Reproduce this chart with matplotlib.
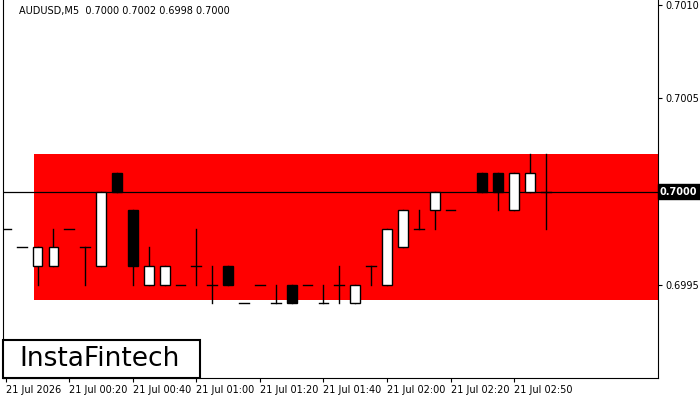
import matplotlib
matplotlib.use("Agg")
import matplotlib.pyplot as plt
from matplotlib.patches import Rectangle

# candle data (index, open, high, low, close); index 29 missing
idx = [0,1,2,3,4,5,6,7,8,9,10,11,12,13,14,15,16,17,18,19,20,21,22,23,24,25,26,27,28,30,31,32,33,34]
opens = [.6998,.6997,.6996,.6996,.6998,.6997,.6996,.7001,.6999,.6995,.6995,.6995,.6996,.6995,.6996,.6994,.6995,.6994,.6995,.6995,.6994,.6995,.6994,.6996,.6995,.6997,.6998,.6999,.6999,.7001,.7001,.6999,.7000,.7000]
highs = [.6998,.6997,.6997,.6998,.6998,.6997,.7000,.7001,.6999,.6997,.6996,.6995,.6998,.6996,.6996,.6994,.6995,.6995,.6995,.6995,.6995,.6996,.6995,.6996,.6998,.6999,.6999,.7000,.6999,.7001,.7001,.7001,.7002,.7002]
lows = [.6998,.6997,.6995,.6996,.6998,.6995,.6996,.7000,.6995,.6995,.6995,.6995,.6995,.6994,.6995,.6994,.6995,.6994,.6994,.6995,.6994,.6994,.6994,.6995,.6995,.6997,.6998,.6998,.6999,.7000,.6999,.6999,.7000,.6998]
closes = [.6998,.6997,.6997,.6997,.6998,.6997,.7000,.7000,.6996,.6996,.6996,.6995,.6996,.6995,.6995,.6994,.6995,.6994,.6994,.6995,.6994,.6995,.6995,.6996,.6998,.6999,.6998,.7000,.6999,.7000,.7000,.7001,.7001,.7000]

xtick_pos = [0,4,8,12,16,20,24,28,32]
xtick_labels = ["21 Jul 2026","21 Jul 00:20","21 Jul 00:40","21 Jul 01:00","21 Jul 01:20",
                "21 Jul 01:40","21 Jul 02:00","21 Jul 02:20","21 Jul 02:50"]
yticks = [0.6995, 0.7000, 0.7005, 0.7010]
zone_low, zone_high = 0.69942, 0.7002
zone_start, zone_end = 1.8, 41.5
last_price = 0.7000

fig = plt.figure(figsize=(7, 4), dpi=100)
ax = fig.add_axes([0.004, 0.055, 0.94 - 0.004, 0.945])
ax.set_xlim(-3/16, 657/16)
ax.set_ylim(0.6990, 0.701027)

ax.add_patch(Rectangle((zone_start, zone_low), zone_end - zone_start, zone_high - zone_low,
                       color="#ff0000", zorder=1, lw=0))
ax.axhline(last_price, color="black", lw=0.9, zorder=2)

w = 0.62
for i, o, h, l, c in zip(idx, opens, highs, lows, closes):
    ax.plot([i, i], [l, h], color="black", lw=1, zorder=3)
    if abs(c - o) < 1e-9:
        ax.plot([i - w/2, i + w/2], [o, o], color="black", lw=1, zorder=3)
    else:
        fc = "white" if c > o else "black"
        ax.add_patch(Rectangle((i - w/2, min(o, c)), w, abs(c - o), facecolor=fc,
                               edgecolor="black", lw=1, zorder=4))

ax.yaxis.tick_right()
ax.set_yticks(yticks)
ax.set_yticklabels(["" if v == last_price else f"{v:.4f}" for v in yticks], fontsize=7)
ax.set_xticks(xtick_pos)
ax.set_xticklabels(xtick_labels, fontsize=7, ha="left")
ax.tick_params(axis="both", length=3, pad=2)
ax.spines["top"].set_visible(False)

ax.text(1.003, last_price, f"{last_price:.4f}", transform=ax.get_yaxis_transform(),
        fontsize=7, color="white", va="center", ha="left", weight="bold",
        bbox=dict(boxstyle="square,pad=0.25", fc="black", ec="black"))
ax.text(0.025, 0.985, "AUDUSD,M5  0.7000 0.7002 0.6998 0.7000", transform=ax.transAxes,
        fontsize=7, va="top", ha="left")

fig.patches.append(Rectangle((3/700, 22/400), 197/700, 38/400, transform=fig.transFigure,
                             facecolor="white", edgecolor="black", lw=1.5, zorder=10))
fig.text(100/700, 41/400, "InstaFintech", fontsize=19, ha="center", va="center", zorder=11)

fig.savefig("out.png", dpi=100)
